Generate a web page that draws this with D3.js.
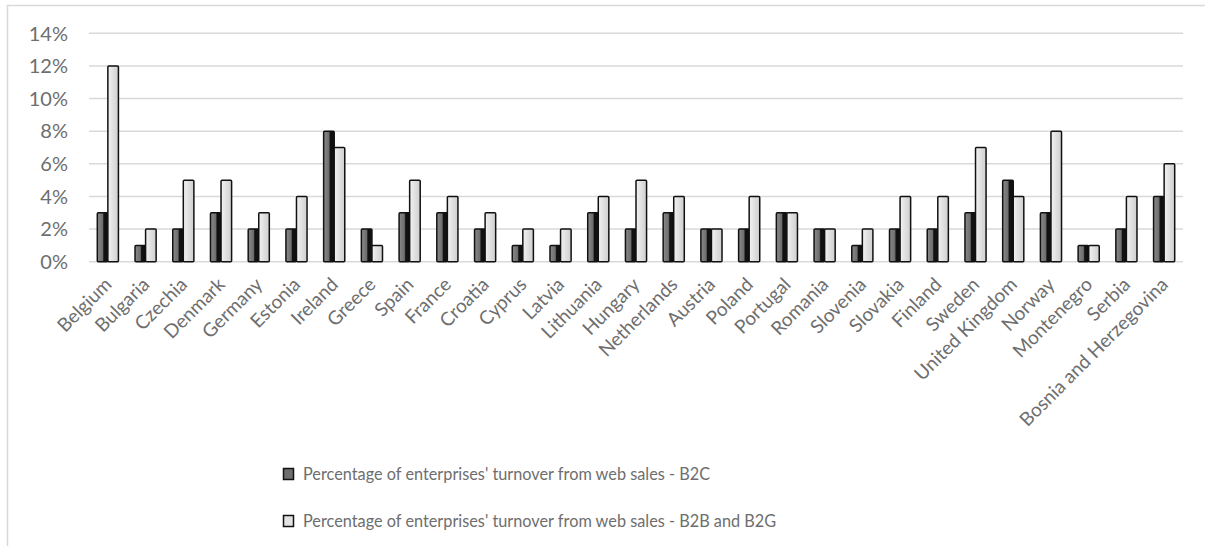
<!DOCTYPE html>
<html><head><meta charset="utf-8">
<script src="https://cdn.jsdelivr.net/npm/d3@7"></script>
<style>body{margin:0;background:#fff;}svg{display:block;}</style>
</head><body>
<svg id="c" width="1205" height="546"></svg>
<script>
const categories = ["Belgium","Bulgaria","Czechia","Denmark","Germany","Estonia","Ireland","Greece","Spain","France","Croatia","Cyprus","Latvia","Lithuania","Hungary","Netherlands","Austria","Poland","Portugal","Romania","Slovenia","Slovakia","Finland","Sweden","United Kingdom","Norway","Montenegro","Serbia","Bosnia and Herzegovina"];
const b2c = [3,1,2,3,2,2,8,2,3,3,2,1,1,3,2,3,2,2,3,2,1,2,2,3,5,3,1,2,4];
const b2b = [12,2,5,5,3,4,7,1,5,4,3,2,2,4,5,4,2,4,3,2,2,4,4,7,4,8,1,4,6];
const seriesNames = ["Percentage of enterprises' turnover from web sales - B2C","Percentage of enterprises' turnover from web sales - B2B and B2G"];
const yTicks = [0,2,4,6,8,10,12,14];

const svg = d3.select("#c");
const font = "Lato, 'Open Sans', sans-serif";
const textCol = "#6e6e6e";

const defs = svg.append("defs");
const g1 = defs.append("linearGradient").attr("id","gDark");
[[0,"#8a8a8a"],[0.5,"#6e6e6e"],[0.62,"#111"],[1,"#111"]].forEach(s=>g1.append("stop").attr("offset",s[0]).attr("stop-color",s[1]));
const g2 = defs.append("linearGradient").attr("id","gLight");
[[0,"#f2f2f2"],[0.6,"#dcdcdc"],[1,"#cfcfcf"]].forEach(s=>g2.append("stop").attr("offset",s[0]).attr("stop-color",s[1]));

svg.append("rect").attr("x",7.5).attr("y",5.5).attr("width",1210).attr("height",560)
  .attr("fill","none").attr("stroke","#d9d9d9").attr("stroke-width",1.5);

const x0 = 89, x1 = 1183, yTop = 33.3, yBot = 261.7;
const x = d3.scaleBand().domain(categories).range([x0,x1]).paddingInner(0.44).paddingOuter(0.22);
const xs = d3.scaleBand().domain([0,1]).range([0,x.bandwidth()]);
const y = d3.scaleLinear().domain([0,14]).range([yBot,yTop]);

svg.append("g").selectAll("line").data(yTicks).join("line")
  .attr("x1",x0).attr("x2",x1).attr("y1",d=>y(d)).attr("y2",d=>y(d))
  .attr("stroke","#d9d9d9").attr("stroke-width",1.5);

svg.append("g").selectAll("text").data(yTicks).join("text")
  .attr("x",68).attr("y",d=>y(d)).attr("dy","0.36em").attr("text-anchor","end")
  .attr("font-family",font).attr("font-size",20).attr("fill",textCol)
  .text(d=>d+"%");

const groups = svg.append("g").selectAll("g").data(categories).join("g")
  .attr("transform",d=>`translate(${x(d)},0)`);
groups.append("rect").attr("x",xs(0)).attr("width",xs.bandwidth())
  .attr("y",(d,i)=>y(b2c[i])).attr("height",(d,i)=>y(0)-y(b2c[i]))
  .attr("fill","url(#gDark)").attr("stroke","#111").attr("stroke-width",1.5).attr("rx",1);
groups.append("rect").attr("x",xs(1)).attr("width",xs.bandwidth())
  .attr("y",(d,i)=>y(b2b[i])).attr("height",(d,i)=>y(0)-y(b2b[i]))
  .attr("fill","url(#gLight)").attr("stroke","#111").attr("stroke-width",1.5).attr("rx",1);

svg.append("g").selectAll("text").data(categories).join("text")
  .attr("transform",d=>`translate(${x(d)+x.bandwidth()/2+5},${yBot+24}) rotate(-45)`)
  .attr("text-anchor","end").attr("font-family",font).attr("font-size",19).attr("fill",textCol)
  .text(d=>d);

const leg = svg.append("g").selectAll("g").data(seriesNames).join("g")
  .attr("transform",(d,i)=>`translate(283,${468+i*47})`);
leg.append("rect").attr("x",0.5).attr("y",0.5).attr("width",10).attr("height",11)
  .attr("fill",(d,i)=>i===0?"#6e6e6e":"#e3e3e3").attr("stroke","#111").attr("stroke-width",1.5);
leg.append("text").attr("x",20).attr("y",12).attr("font-family",font).attr("font-size",16.3).attr("fill",textCol)
  .text(d=>d);
</script>
</body></html>
